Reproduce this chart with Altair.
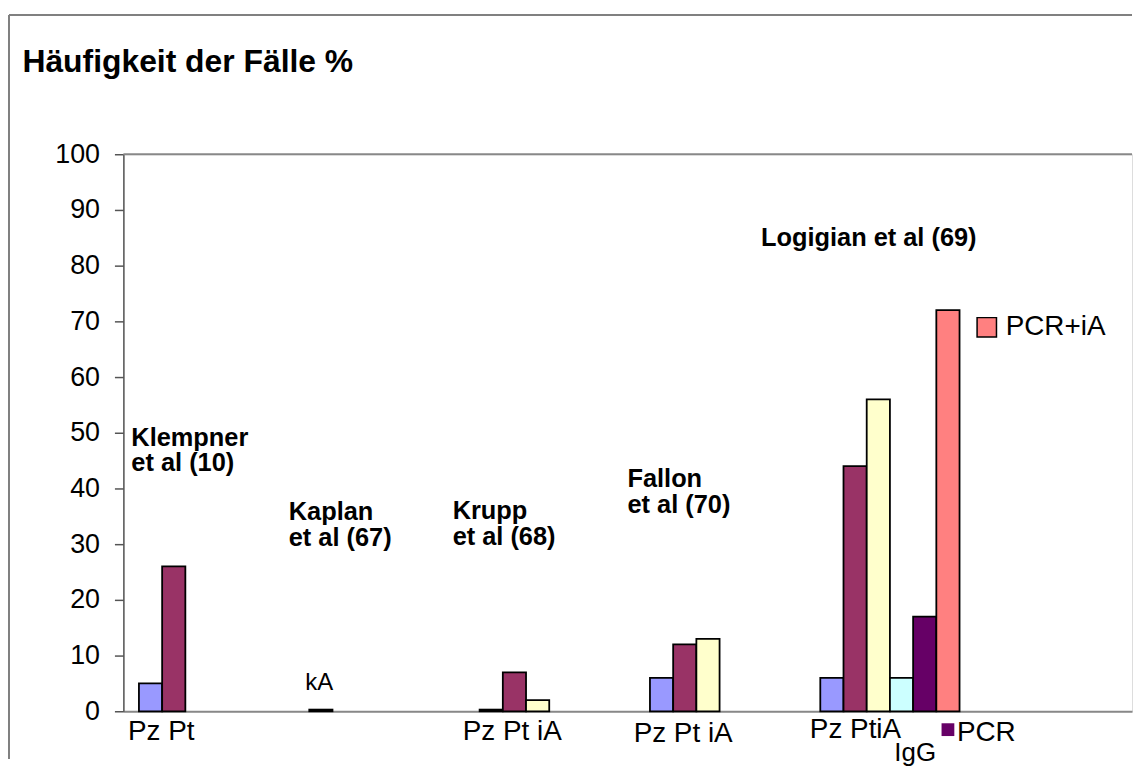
import altair as alt
import pandas as pd

FONT = "Liberation Sans"

# ---------------- data ----------------
groups = ["Klempner et al (10)", "Kaplan et al (67)", "Krupp et al (68)",
          "Fallon et al (70)", "Logigian et al (69)"]
series = ["Pz", "Pt", "iA", "IgG", "PCR", "PCR+iA"]
colors = ["#9999FF", "#993366", "#FFFFCC", "#CCFFFF", "#660066", "#FF8080"]

klempner = [5, 26]
kaplan = [0.3]
krupp = [0.3, 7, 2]
fallon = [6, 12, 13]
logigian = [6, 44, 56, 6, 17, 72]
group_values = [klempner, kaplan, krupp, fallon, logigian]

study_titles = [["Klempner", "et al (10)"], ["Kaplan", "et al (67)"],
                ["Krupp", "et al (68)"], ["Fallon", "et al (70)"],
                "Logigian et al (69)"]
bar_labels = ["Pz Pt", "kA", "Pz Pt iA", "Pz Pt iA", "Pz PtiA"]
extra_label = "IgG"
pcr_label = "PCR"

y_title = "Häufigkeit der Fälle %"
y_ticks = list(range(0, 101, 10))

rows = []
for g, vals in zip(groups, group_values):
    for s, v in zip(series, vals):
        rows.append({"group": g, "series": s, "value": v})
df = pd.DataFrame(rows)

# ---------------- layout (positions / styles) ----------------
W, H = 1014, 560
title_layout = [(8, 47.7), (-5, 34.3), (-11.5, 34.5), (-7, 40.2), (-44, 83.6)]
label_layout = [(38, -5.2), (25.7, 3.75), (48.5, -5.2), (49, -5.5), (51, -4.8)]
igg_layout = (111, -8.9)
pcr_text_layout = (153, -5.4)
pcr_marker_y = -3.3

xscale = alt.Scale(domain=groups, paddingInner=0, paddingOuter=0.4606, align=0)
xoscale = alt.Scale(domain=series, paddingInner=0, paddingOuter=0.67)
yscale = alt.Scale(domain=[0, 100], nice=False, zero=True)

xaxis = alt.Axis(labels=False, ticks=False, title=None, domainColor="#888888",
                 domainWidth=2, grid=False)
yaxis = alt.Axis(values=y_ticks, grid=False, domainColor="#555555", domainWidth=1.5,
                 tickColor="#555555", tickWidth=1.5, tickSize=9,
                 labelFont=FONT, labelFontSize=27, labelColor="black",
                 labelPadding=15, labelFlush=False, labelOverlap=False,
                 title=y_title, titleAngle=0, titleAlign="left",
                 titleBaseline="alphabetic", titleX=-102, titleY=-83,
                 titleFont=FONT, titleFontSize=32, titleFontWeight="bold",
                 titleColor="black")

one = pd.DataFrame({"a": [0]})

frame_left = alt.Chart(one).mark_rule(color="#808080", strokeWidth=2).encode(
    x=alt.value(-115), y=alt.value(-140), y2=alt.value(H + 48))
frame_top = alt.Chart(one).mark_rule(color="#808080", strokeWidth=2).encode(
    x=alt.value(-115), x2=alt.value(W), y=alt.value(-140))
top_line = alt.Chart(one).mark_rule(color="#888888", strokeWidth=2).encode(
    y=alt.datum(100, scale=yscale))

bars = alt.Chart(df).mark_bar(stroke="black", strokeWidth=1.8).encode(
    x=alt.X("group:N", scale=xscale, axis=xaxis),
    xOffset=alt.XOffset("series:N", scale=xoscale),
    y=alt.Y("value:Q", scale=yscale, axis=yaxis),
    fill=alt.Fill("series:N", scale=alt.Scale(domain=series, range=colors),
                  legend=alt.Legend(values=["PCR+iA"], title=None, orient="none",
                                    legendX=854, legendY=160, symbolType="square",
                                    symbolSize=380, symbolStrokeColor="black",
                                    symbolStrokeWidth=1.5, symbolOpacity=1,
                                    labelFont=FONT, labelFontSize=28,
                                    labelColor="black", labelOffset=5)),
)

# small PCR marker under the last Logigian slot
pcr_df = pd.DataFrame({"group": [groups[-1]], "series": [series[-1]],
                       "y": [pcr_marker_y]})
pcr_marker = alt.Chart(pcr_df).mark_square(
    size=165, fill=colors[series.index("PCR")], opacity=1, strokeWidth=0
).encode(
    x=alt.X("group:N", scale=xscale, axis=xaxis),
    xOffset=alt.XOffset("series:N", scale=xoscale),
    y=alt.Y("y:Q", scale=yscale, axis=yaxis),
)


def text_layer(group, text, dx, yv, size, weight, align):
    d = pd.DataFrame({"group": [group], "y": [yv], "t": [text]})
    return alt.Chart(d).mark_text(
        dx=dx, align=align, baseline="alphabetic", font=FONT, fontSize=size,
        fontWeight=weight, color="black", lineHeight=26,
    ).encode(
        x=alt.X("group:N", scale=xscale, axis=xaxis, bandPosition=0),
        y=alt.Y("y:Q", scale=yscale, axis=yaxis),
        text="t:N",
    )


layers = [frame_left, frame_top, top_line, bars, pcr_marker]
for g, t, (dx, yv) in zip(groups, study_titles, title_layout):
    layers.append(text_layer(g, t, dx, yv, 25.5, "bold", "left"))
for g, t, (dx, yv) in zip(groups, bar_labels, label_layout):
    layers.append(text_layer(g, t, dx, yv, 24 if t == "kA" else 28, "normal", "center"))
layers.append(text_layer(groups[-1], extra_label, igg_layout[0], igg_layout[1], 26,
                         "normal", "center"))
layers.append(text_layer(groups[-1], pcr_label, pcr_text_layout[0], pcr_text_layout[1],
                         28, "normal", "left"))

chart = alt.layer(*layers).properties(
    width=W, height=H,
    padding={"left": 0, "top": 4, "right": 0, "bottom": 0},
).configure_view(stroke=None).configure(background="white")

chart.save("out.html", embed_options={"renderer": "svg", "actions": False})
